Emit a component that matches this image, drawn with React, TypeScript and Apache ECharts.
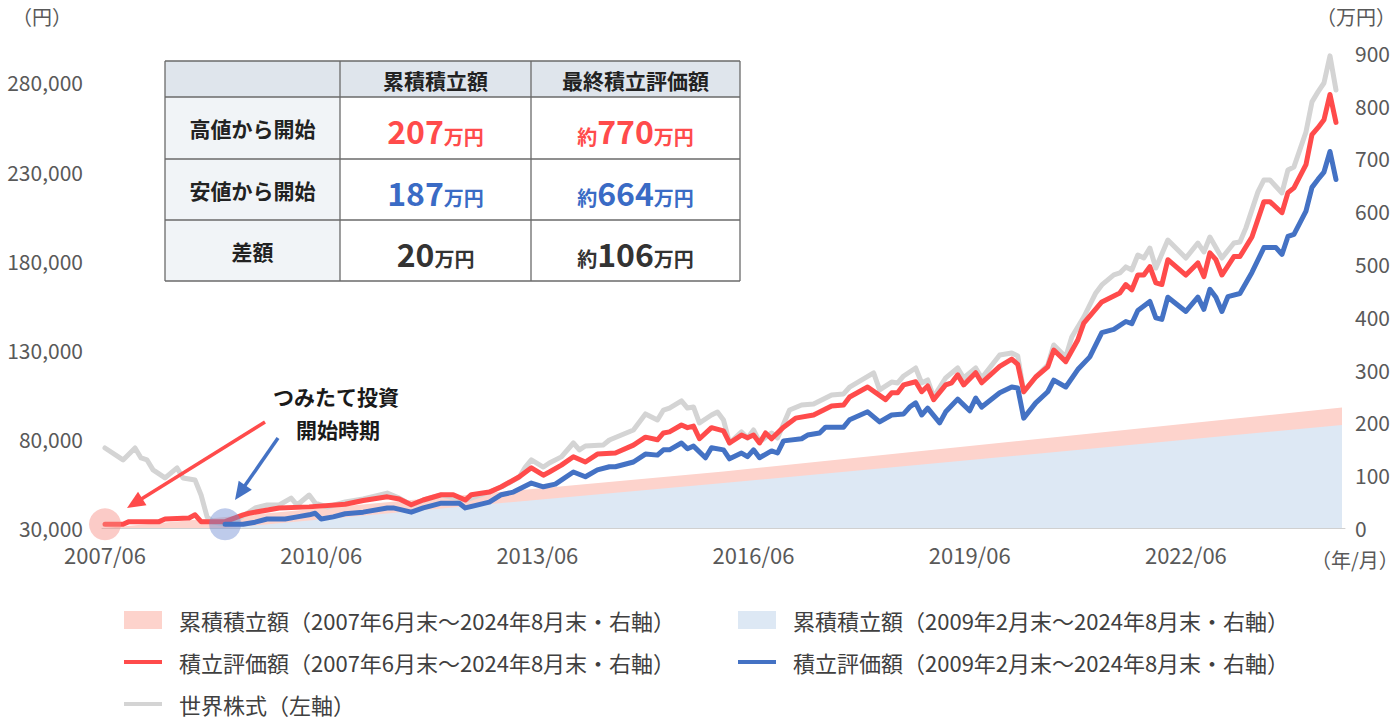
import React, { useEffect, useRef } from "react";
import * as echarts from "echarts";

// ---------- categories (months from 2007/06 to 2024/08) ----------
const START_YEAR = 2007;
const START_MONTH = 6;
const N_MONTHS = 207;
const MONTHS: string[] = Array.from({ length: N_MONTHS }, (_, i) => {
  const t = START_MONTH - 1 + i;
  const y = START_YEAR + Math.floor(t / 12);
  const m = (t % 12) + 1;
  return `${y}/${String(m).padStart(2, "0")}`;
});

// ---------- axis ticks ----------
const LEFT_MIN = 30000;
const LEFT_MAX = 296700;
const LEFT_STEP = 50000;
const LEFT_GRID = [80000, 130000, 180000, 230000, 280000];
const RIGHT_MAX = 900;
const RIGHT_STEP = 100;

// ---------- series: [month index since 2007/06, value] ----------
const GRAY: [number, number][] = [
  [0, 74900], [3, 68200], [5, 74900], [6, 69300], [7, 68200], [8, 62600], [10, 58100], [12, 63700],
  [13, 58100], [15, 56900], [16, 48500], [17, 36200], [18, 33400], [20, 32200], [22, 34500], [25, 41200],
  [27, 42900], [29, 42900], [31, 46800], [32, 42900], [34, 48500], [35, 44000], [37, 41800], [40, 44600],
  [43, 46300], [47, 49600], [49, 46800], [51, 42900], [53, 45700], [56, 48500], [60, 45700], [64, 50200],
  [66, 53000], [69, 58600], [70, 64200], [71, 68200], [73, 64200], [74, 66500], [76, 69900], [78, 77700],
  [79, 73800], [80, 76000], [83, 76600], [84, 79400], [88, 85000], [90, 94000], [92, 90600], [93, 96200],
  [94, 97300], [96, 101300], [97, 97300], [98, 97900], [99, 88900], [101, 93400], [102, 95100], [103, 90600],
  [104, 77700], [106, 83900], [107, 80500], [108, 85000], [109, 78300], [111, 83300], [112, 80500], [114, 96200],
  [116, 99000], [118, 99600], [121, 104600], [123, 105200], [124, 109100], [128, 117000], [129, 107500], [131, 111900],
  [132, 111400], [133, 115300], [135, 119800], [136, 111400], [137, 113100], [138, 103500], [140, 114200], [142, 119800],
  [143, 114200], [145, 119800], [146, 114200], [149, 127100], [151, 128200], [152, 126500], [153, 106300], [155, 114700],
  [157, 121500], [158, 132700], [160, 126000], [161, 137200], [163, 148400], [165, 161900], [166, 166400], [168, 172000],
  [169, 173100], [170, 176500], [171, 174800], [172, 183200], [173, 181500], [174, 187100], [175, 175900], [177, 191600],
  [180, 181500], [182, 189900], [183, 184900], [184, 193300], [186, 181500], [188, 189900], [189, 190500], [190, 198400],
  [192, 218600], [193, 225300], [194, 225300], [196, 218000], [197, 230900], [198, 232600], [200, 252200], [201, 269100],
  [202, 274700], [203, 279700], [204, 294900], [205, 275800],
];

const RED: [number, number][] = [
  [0, 7], [3, 7], [4, 12], [9, 12], [10, 17], [14, 19], [15, 25], [16, 12], [20, 12], [23, 25], [24, 28],
  [29, 38], [34, 40], [40, 45], [43, 52], [47, 59], [49, 55], [51, 44], [53, 53], [56, 63], [58, 63], [60, 53],
  [61, 63], [64, 68], [66, 78], [69, 97], [71, 114], [73, 100], [74, 106], [76, 119], [78, 135], [80, 125],
  [82, 140], [85, 142], [88, 157], [90, 172], [92, 167], [93, 180], [94, 182], [96, 195], [97, 190], [98, 193],
  [99, 169], [101, 190], [103, 184], [104, 161], [106, 176], [107, 171], [108, 176], [109, 161], [110, 180], [111, 169],
  [113, 191], [115, 208], [118, 214], [121, 231], [123, 233], [124, 248], [127, 267], [130, 243], [131, 256], [132, 256],
  [133, 271], [135, 277], [136, 258], [137, 269], [138, 243], [140, 271], [141, 275], [142, 290], [143, 271], [145, 294],
  [146, 275], [149, 306], [151, 320], [152, 310], [153, 258], [155, 286], [157, 305], [158, 337], [160, 315], [162, 356],
  [163, 388], [166, 428], [169, 445], [170, 461], [171, 451], [172, 479], [173, 479], [174, 495], [175, 464], [176, 461],
  [177, 508], [180, 479], [182, 502], [183, 476], [184, 521], [185, 508], [186, 479], [188, 514], [189, 514], [191, 551],
  [193, 618], [194, 618], [196, 597], [197, 635], [198, 644], [200, 688], [201, 745], [202, 758], [203, 773], [204, 821],
  [205, 768],
];

const BLUE: [number, number][] = [
  [20, 7], [23, 7], [25, 11], [27, 17], [30, 17], [32, 21], [34, 25], [35, 28], [36, 17], [38, 21], [40, 27],
  [43, 30], [47, 38], [48, 38], [51, 30], [53, 38], [56, 47], [59, 47], [60, 38], [64, 49], [66, 63], [68, 68],
  [71, 85], [73, 78], [75, 83], [78, 106], [80, 97], [82, 110], [84, 116], [85, 116], [88, 125], [90, 140],
  [92, 138], [93, 148], [94, 148], [96, 161], [97, 150], [98, 155], [100, 133], [101, 152], [103, 148], [104, 131],
  [106, 142], [107, 135], [108, 148], [109, 133], [111, 146], [112, 142], [113, 165], [116, 169], [117, 176], [119, 180],
  [120, 191], [123, 191], [124, 205], [127, 220], [129, 201], [131, 214], [133, 216], [134, 229], [135, 237], [136, 214],
  [137, 227], [139, 199], [140, 220], [142, 244], [144, 222], [145, 246], [146, 229], [149, 256], [151, 267], [152, 265],
  [153, 208], [155, 237], [157, 258], [158, 280], [160, 267], [162, 300], [164, 324], [166, 370], [168, 376], [170, 391],
  [171, 387], [172, 412], [174, 429], [175, 398], [176, 395], [177, 437], [180, 410], [182, 437], [183, 414], [184, 452],
  [185, 437], [186, 410], [187, 438], [189, 444], [191, 484], [193, 531], [195, 531], [196, 518], [197, 552], [198, 556],
  [200, 600], [201, 645], [202, 660], [203, 674], [204, 713], [205, 660],
];

// cumulative contributions (万円)
const PINK_AREA: [number, number][] = [[0, 0], [103, 107], [206, 228]];
const BLUE_AREA: [number, number][] = [[20, 0], [103, 85], [206, 195]];

// ---------- names / texts ----------
const N_PINK = "累積積立額（2007年6月末～2024年8月末・右軸）";
const N_RED = "積立評価額（2007年6月末～2024年8月末・右軸）";
const N_GRAY = "世界株式（左軸）";
const N_BLUEA = "累積積立額（2009年2月末～2024年8月末・右軸）";
const N_BLUE = "積立評価額（2009年2月末～2024年8月末・右軸）";

const TABLE_HEAD = ["累積積立額", "最終積立評価額"];
const TABLE_ROWS = ["高値から開始", "安値から開始", "差額"];
const TABLE_TOTAL = ["207", "187", "20"];
const TABLE_FINAL = ["770", "664", "106"];

const C_RED = "#ff4b4b";
const C_BLUE = "#4472c4";
const C_GRAY = "#d4d4d4";
const C_PINK = "#fdd3cc";
const C_LBLUE = "#dde8f4";
const C_TEXT = "#595959";
const FONT = '"Noto Sans CJK JP", "Noto Sans", sans-serif';

function arrow(x1: number, y1: number, x2: number, y2: number, color: string) {
  const dx = x2 - x1, dy = y2 - y1;
  const len = Math.sqrt(dx * dx + dy * dy);
  const ux = dx / len, uy = dy / len;
  const hl = 18, hw = 8;
  const bx = x2 - ux * hl, by = y2 - uy * hl;
  const px = -uy * hw, py = ux * hw;
  return [
    { type: "line", z: 100, shape: { x1, y1, x2: bx + ux * 2, y2: by + uy * 2 }, style: { stroke: color, lineWidth: 3.5 } },
    { type: "polygon", z: 100, shape: { points: [[x2, y2], [bx + px, by + py], [bx - px, by - py]] }, style: { fill: color } },
  ];
}

function buildTable() {
  const x0 = 165, x1 = 340, x2 = 531, x3 = 740;
  const ys = [61, 97, 159, 220, 281];
  const els: any[] = [];
  els.push({ type: "rect", z: 100, shape: { x: x0, y: ys[0], width: x3 - x0, height: ys[1] - ys[0] }, style: { fill: "#dfe5ec" } });
  els.push({ type: "rect", z: 100, shape: { x: x0, y: ys[1], width: x1 - x0, height: ys[4] - ys[1] }, style: { fill: "#f1f4f7" } });
  els.push({ type: "rect", z: 100, shape: { x: x1, y: ys[1], width: x3 - x1, height: ys[4] - ys[1] }, style: { fill: "#ffffff" } });
  const lc = "#6a6a6a";
  ys.forEach((y) => els.push({ type: "line", z: 101, shape: { x1: x0, y1: y, x2: x3, y2: y }, style: { stroke: lc, lineWidth: 1.3 } }));
  [x0, x1, x2, x3].forEach((x) => els.push({ type: "line", z: 101, shape: { x1: x, y1: ys[0], x2: x, y2: ys[4] }, style: { stroke: lc, lineWidth: 1.3 } }));
  const cx = [(x0 + x1) / 2, (x1 + x2) / 2, (x2 + x3) / 2];
  TABLE_HEAD.forEach((t, i) =>
    els.push({ type: "text", z: 102, x: cx[i + 1], y: (ys[0] + ys[1]) / 2 + 1, style: { text: t, font: `bold 21px ${FONT}`, fill: "#222", align: "center", verticalAlign: "middle" } })
  );
  const colors = [C_RED, "#3a6bc5", "#333333"];
  TABLE_ROWS.forEach((t, r) => {
    const cy = (ys[r + 1] + ys[r + 2]) / 2;
    els.push({ type: "text", z: 102, x: cx[0], y: cy, style: { text: t, font: `bold 21px ${FONT}`, fill: "#222", align: "center", verticalAlign: "middle" } });
    const col = colors[r];
    const rich = {
      n: { fontSize: 32, fontWeight: "bold", fill: col, fontFamily: FONT, verticalAlign: "bottom", lineHeight: 36 },
      u: { fontSize: 20, fontWeight: "bold", fill: col, fontFamily: FONT, verticalAlign: "bottom", lineHeight: 31 },
    };
    els.push({ type: "text", z: 102, x: cx[1], y: cy, style: { text: `{n|${TABLE_TOTAL[r]}}{u|万円}`, rich, align: "center", verticalAlign: "middle" } });
    els.push({ type: "text", z: 102, x: cx[2], y: cy, style: { text: `{u|約}{n|${TABLE_FINAL[r]}}{u|万円}`, rich, align: "center", verticalAlign: "middle" } });
  });
  return els;
}

export default function App() {
  const ref = useRef<HTMLDivElement>(null);
  useEffect(() => {
    if (!ref.current) return;
    const chart = echarts.init(ref.current, undefined, { renderer: "svg" });
    const lineIcon = "path://M0,0H40V4H0Z";
    const legendBase = {
      orient: "vertical",
      top: 609,
      padding: 0,
      height: 112,
      itemGap: 20,
      itemWidth: 38,
      itemHeight: 18,
      selectedMode: false,
      textStyle: { fontSize: 22, color: "#404040", fontFamily: FONT, lineHeight: 22, padding: [0, 0, 0, 12] },
    };
    const option: any = {
      animation: false,
      backgroundColor: "#ffffff",
      textStyle: { fontFamily: FONT },
      grid: { left: 102, right: 55, top: 52.7, bottom: 193, containLabel: false },
      xAxis: {
        type: "category",
        data: MONTHS,
        boundaryGap: true,
        axisLine: { lineStyle: { color: "#d0d0d0", width: 1 } },
        axisTick: { alignWithLabel: true, interval: 35, length: 7, lineStyle: { color: "#d0d0d0" } },
        axisLabel: { interval: 35, color: C_TEXT, fontSize: 22, margin: 15, fontFamily: FONT },
      },
      yAxis: [
        {
          type: "value", min: LEFT_MIN, max: LEFT_MAX, interval: LEFT_STEP,
          axisLine: { show: false }, axisTick: { show: false }, splitLine: { show: false },
          axisLabel: { showMaxLabel: false, color: C_TEXT, fontSize: 21, margin: 19, fontFamily: FONT, formatter: (v: number) => v.toLocaleString("en-US") },
        },
        {
          type: "value", position: "right", min: 0, max: RIGHT_MAX, interval: RIGHT_STEP,
          axisLine: { show: false }, axisTick: { show: false }, splitLine: { show: false },
          axisLabel: { color: C_TEXT, fontSize: 21, margin: 10, fontFamily: FONT },
        },
      ],
      legend: [
        { ...legendBase, left: 124, data: [{ name: N_PINK, icon: "rect" }, { name: N_RED, icon: lineIcon }, { name: N_GRAY, icon: lineIcon }] },
        { ...legendBase, left: 738, data: [{ name: N_BLUEA, icon: "rect" }, { name: N_BLUE, icon: lineIcon }] },
      ],
      series: [
        {
          name: N_PINK, type: "line", yAxisIndex: 1, data: PINK_AREA, symbol: "none", color: C_PINK, z: 2,
          lineStyle: { width: 0 }, areaStyle: { color: C_PINK, opacity: 1 },
          markLine: {
            silent: true, z: 1, symbol: ["none", "none"], label: { show: false },
            lineStyle: { color: "#d8dde4", width: 1, type: "solid" },
            data: LEFT_GRID.map((v) => ({ yAxis: v, yAxisIndex: 0 })),
          },
        },
        {
          name: N_BLUEA, type: "line", yAxisIndex: 1, data: BLUE_AREA, symbol: "none", color: C_LBLUE, z: 2,
          lineStyle: { width: 0 }, areaStyle: { color: C_LBLUE, opacity: 1 },
        },
        {
          name: N_GRAY, type: "line", yAxisIndex: 0, data: GRAY, symbol: "none", color: C_GRAY, z: 3,
          lineStyle: { width: 5, join: "round", cap: "round" },
        },
        {
          name: N_RED, type: "line", yAxisIndex: 1, data: RED, symbol: "none", color: C_RED, z: 4,
          lineStyle: { width: 5, join: "round", cap: "round" },
          markPoint: {
            silent: true, symbol: "circle", symbolSize: 32, label: { show: false },
            itemStyle: { color: "rgba(246,140,130,0.45)" },
            data: [{ coord: [RED[0][0], RED[0][1]] }],
          },
        },
        {
          name: N_BLUE, type: "line", yAxisIndex: 1, data: BLUE, symbol: "none", color: C_BLUE, z: 5,
          lineStyle: { width: 5, join: "round", cap: "round" },
          markPoint: {
            silent: true, symbol: "circle", symbolSize: 32, label: { show: false },
            itemStyle: { color: "rgba(110,140,210,0.45)" },
            data: [{ coord: [BLUE[0][0], BLUE[0][1]] }],
          },
        },
      ],
      graphic: [
        { type: "text", left: 12, top: 6, style: { text: "（円）", font: `20px ${FONT}`, fill: C_TEXT } },
        { type: "text", left: 1316, top: 6, style: { text: "（万円）", font: `20px ${FONT}`, fill: C_TEXT } },
        { type: "text", left: 1311, top: 549, style: { text: "（年/月）", font: `20px ${FONT}`, fill: C_TEXT } },
        { type: "text", z: 100, x: 336, y: 396, style: { text: "つみたて投資", font: `bold 21px ${FONT}`, fill: "#1a1a1a", align: "center", verticalAlign: "middle" } },
        { type: "text", z: 100, x: 338, y: 429, style: { text: "開始時期", font: `bold 21px ${FONT}`, fill: "#1a1a1a", align: "center", verticalAlign: "middle" } },
        ...arrow(265, 422, 127, 508, C_RED),
        ...arrow(278, 438, 235, 500, C_BLUE),
        ...buildTable(),
      ],
    };
    chart.setOption(option);
    return () => chart.dispose();
  }, []);
  return <div ref={ref} style={{ position: "fixed", left: 0, top: 0, width: 1400, height: 721, background: "#fff" }} />;
}
